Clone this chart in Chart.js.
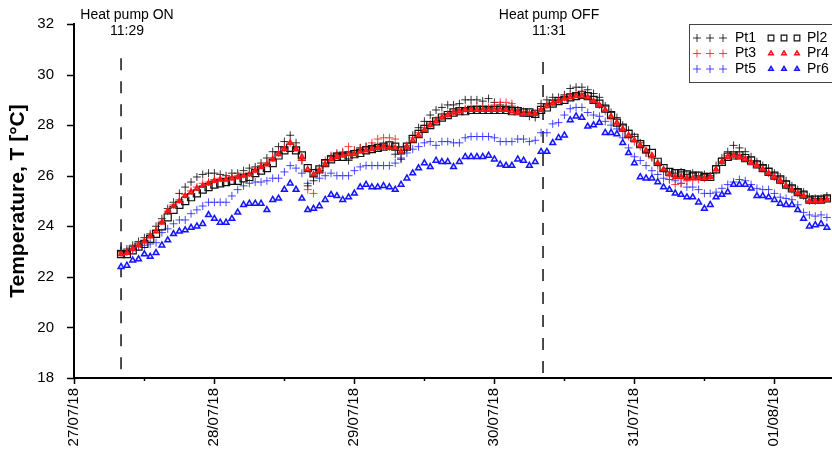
<!DOCTYPE html>
<html>
<head>
<meta charset="utf-8">
<title>Temperature</title>
<script src="https://cdn.jsdelivr.net/npm/chart.js@4"></script>
<style>
  html, body { margin: 0; background: #fff; }
  #wrap { width: 832px; height: 456px; }
</style>
</head>
<body>
<div id="wrap"><canvas id="tempChart" width="832" height="456"></canvas></div>
<script>
// x axis is in days from 27/07/18 00:00, readings are hourly
const firstReading = 0.336;
const readingStep = 1 / 24;
const dayLabels = ['27/07/18', '28/07/18', '29/07/18', '30/07/18', '31/07/18', '01/08/18'];

const pumpTimes = [0.336, 3.35];
const pumpTitles = ['Heat pump ON', 'Heat pump OFF'];
const pumpClock = ['11:29', '11:31'];

const pt1 = [
  23.05, 23.1, 23.25, 23.4, 23.55, 23.7, 24.0, 24.3, 24.7, 24.95,
  25.3, 25.55, 25.75, 25.95, 26.05, 26.1, 26.1, 26.05, 26.0, 26.1,
  26.1, 26.2, 26.3, 26.35, 26.5, 26.7, 26.95, 27.15, 27.35, 27.6,
  27.3, 26.6, 25.6, 25.8, 26.2, 26.5, 26.75, 26.85, 26.9, 26.6,
  27.0, 27.1, 27.15, 27.15, 27.15, 27.2, 27.15, 26.85, 26.65, 27.1,
  27.6, 27.9, 28.15, 28.4, 28.6, 28.7, 28.8, 28.8, 28.85, 29.0,
  29.0, 29.0, 28.95, 29.05, 28.9, 28.8, 28.7, 28.75, 28.6, 28.5,
  28.35, 28.3, 28.85, 29.0, 29.1, 29.1, 29.2, 29.45, 29.5, 29.5,
  29.4, 29.25, 29.1, 28.75, 28.5, 28.3, 28.0, 27.8, 27.55, 27.3,
  26.9, 26.75, 26.5, 26.2, 26.15, 26.1, 26.15, 26.05, 26.1, 26.0,
  26.05, 26.0, 26.4, 26.7, 26.95, 27.2, 27.1, 26.95, 26.75, 26.55,
  26.4, 26.3, 26.1, 25.95, 25.8, 25.6, 25.45, 25.35, 25.15, 25.1,
  25.1, 25.2
];
const pl2 = [
  22.9, 22.9, 23.05, 23.2, 23.3, 23.5, 23.7, 24.0, 24.35, 24.65,
  24.85, 25.0, 25.15, 25.3, 25.45, 25.55, 25.65, 25.7, 25.75, 25.8,
  25.8, 25.9, 25.95, 26.1, 26.2, 26.3, 26.5, 26.8, 27.0, 27.1,
  27.0, 26.8, 26.3, 26.1, 26.25, 26.5, 26.65, 26.75, 26.75, 26.8,
  26.85, 26.9, 27.0, 27.05, 27.1, 27.15, 27.2, 27.15, 27.0, 27.15,
  27.45, 27.65, 27.85, 28.0, 28.15, 28.3, 28.4, 28.5, 28.55, 28.55,
  28.6, 28.6, 28.6, 28.6, 28.6, 28.6, 28.6, 28.55, 28.55, 28.5,
  28.5, 28.45, 28.6, 28.7, 28.85, 28.95, 29.0, 29.1, 29.15, 29.2,
  29.15, 29.0, 28.85, 28.65, 28.4, 28.1, 27.9, 27.65, 27.5, 27.25,
  27.05, 26.9, 26.55, 26.3, 26.15, 26.1, 26.1, 26.05, 26.0, 26.0,
  25.95, 25.95, 26.25, 26.55, 26.75, 26.8, 26.8, 26.7, 26.6, 26.45,
  26.3, 26.15, 26.0, 25.85, 25.65, 25.5, 25.35, 25.25, 25.05, 25.05,
  25.05, 25.1
];
const pt3 = [
  22.95, 23.0, 23.1, 23.25, 23.4, 23.6, 23.85, 24.2, 24.6, 24.85,
  25.05, 25.25, 25.4, 25.55, 25.7, 25.75, 25.85, 25.9, 25.9, 25.95,
  26.0, 26.05, 26.1, 26.25, 26.4, 26.5, 26.7, 26.9, 27.1, 27.3,
  27.1, 26.6, 25.45, 25.3, 26.3, 26.6, 26.8, 26.9, 26.95, 27.15,
  27.0, 27.1, 27.15, 27.3, 27.45, 27.5, 27.5, 27.45, 27.0, 27.2,
  27.5, 27.7, 27.9, 28.05, 28.2, 28.35, 28.45, 28.55, 28.6, 28.65,
  28.7, 28.75, 28.75, 28.7, 28.8, 28.9, 28.9, 28.85, 28.6, 28.55,
  28.5, 28.45, 28.65, 28.8, 28.9, 29.0, 29.1, 29.2, 29.25, 29.25,
  29.15, 29.0, 28.8, 28.55, 28.3, 28.05, 27.8, 27.55, 27.35, 27.15,
  26.9, 26.7, 26.4, 26.2, 25.85, 25.65, 25.7, 25.8, 25.85, 25.85,
  25.9, 25.95, 26.2, 26.55, 26.8, 26.85, 26.85, 26.75, 26.6, 26.45,
  26.3, 26.1, 25.95, 25.8, 25.6, 25.45, 25.3, 25.2, 25.0, 25.0,
  25.05, 25.1
];
const pr4 = [
  22.9, 22.95, 23.1, 23.25, 23.4, 23.6, 23.8, 24.15, 24.6, 24.8,
  25.0, 25.2, 25.35, 25.5, 25.6, 25.7, 25.8, 25.85, 25.85, 25.9,
  25.95, 26.0, 26.05, 26.2, 26.35, 26.45, 26.65, 26.85, 27.05, 27.3,
  27.05, 26.75, 26.25, 26.05, 26.2, 26.45, 26.65, 26.75, 26.8, 26.85,
  26.85, 26.95, 27.0, 27.05, 27.1, 27.15, 27.1, 27.1, 26.95, 27.15,
  27.4, 27.6, 27.8, 28.0, 28.15, 28.3, 28.4, 28.5, 28.55, 28.6,
  28.6, 28.6, 28.6, 28.6, 28.6, 28.6, 28.6, 28.55, 28.5, 28.45,
  28.45, 28.45, 28.6, 28.75, 28.85, 28.95, 29.05, 29.1, 29.15, 29.15,
  29.1, 28.95, 28.8, 28.6, 28.35, 28.1, 27.85, 27.6, 27.4, 27.2,
  27.0, 26.8, 26.5, 26.25, 26.05, 25.95, 25.95, 25.9, 25.9, 25.9,
  25.9, 25.95, 26.25, 26.55, 26.75, 26.8, 26.75, 26.65, 26.5, 26.4,
  26.25, 26.1, 25.95, 25.8, 25.6, 25.45, 25.3, 25.2, 25.0, 25.0,
  25.0, 25.05
];
const pt5 = [
  23.0, 23.0, 23.1, 23.2, 23.25, 23.3, 23.35, 23.75, 23.9, 24.1,
  24.25, 24.25, 24.5, 24.65, 24.8, 24.95, 24.95, 24.95, 24.95, 25.2,
  25.45, 25.6, 25.7, 25.75, 25.75, 25.8, 25.9, 25.9, 26.15, 26.4,
  26.3, 26.1, 25.7, 25.95, 25.9, 26.0, 26.1, 26.0, 26.0, 26.0,
  26.2, 26.35, 26.4, 26.4, 26.4, 26.4, 26.4, 26.5, 26.7, 26.9,
  27.05, 27.15, 27.3, 27.35, 27.2, 27.35, 27.35, 27.3, 27.3, 27.5,
  27.55, 27.55, 27.55, 27.55, 27.5, 27.35, 27.35, 27.35, 27.45, 27.45,
  27.35, 27.4, 27.7, 27.7, 28.05, 28.1, 28.4, 28.65, 28.7, 28.7,
  28.5, 28.4, 28.35, 28.15, 28.0, 27.85, 27.5, 27.1, 26.75, 26.6,
  26.4, 26.2, 26.05, 25.9, 25.85, 25.8, 25.7, 25.55, 25.55, 25.45,
  25.3, 25.3, 25.35, 25.5, 25.65, 25.75, 25.85, 25.8, 25.65, 25.5,
  25.45, 25.45, 25.3, 25.15, 25.1, 25.05, 24.85, 24.55, 24.45, 24.4,
  24.45, 24.35
];
const pr6 = [
  22.4, 22.45, 22.65, 22.7, 22.9, 22.8, 22.95, 23.25, 23.45, 23.7,
  23.8, 23.85, 23.95, 24.0, 24.1, 24.45, 24.3, 24.15, 24.15, 24.3,
  24.55, 24.85, 24.9, 24.9, 24.9, 24.65, 25.05, 25.1, 25.45, 25.7,
  25.45, 25.1, 24.65, 24.7, 24.8, 25.05, 25.25, 25.2, 25.05, 25.15,
  25.3, 25.55, 25.65, 25.55, 25.55, 25.6, 25.55, 25.45, 25.65, 25.9,
  26.1, 26.3, 26.5, 26.35, 26.6, 26.55, 26.55, 26.35, 26.55, 26.75,
  26.75, 26.75, 26.75, 26.8, 26.65, 26.45, 26.4, 26.4, 26.65, 26.6,
  26.4, 26.55, 26.95, 26.95, 27.3, 27.5, 27.6, 28.2, 28.35, 28.3,
  27.95, 28.0, 28.1, 27.7, 27.7, 27.65, 27.3, 26.9, 26.5, 25.95,
  25.9, 25.9, 25.75, 25.55, 25.45, 25.3, 25.25, 25.15, 25.15, 24.95,
  24.7, 24.85, 25.15, 25.25, 25.35, 25.65, 25.65, 25.65, 25.5, 25.2,
  25.2, 25.15, 25.05, 24.9, 24.85, 24.85, 24.65, 24.3, 24.0, 24.05,
  24.1, 23.95
];

const FONT = '"Liberation Sans", Arial, sans-serif';

const toPoints = vals => vals.map((v, i) => ({ x: firstReading + i * readingStep, y: v }));

function series(label, vals, style, order) {
  return Object.assign({
    label: label,
    data: toPoints(vals),
    showLine: false,
    order: order
  }, style);
}

const datasets = [
  series('Pr4', pr4, { pointStyle: 'triangle', pointRadius: 2.8, borderColor: '#ff1010', backgroundColor: 'rgba(255,40,40,0.7)', borderWidth: 1.5 }, 0),
  series('Pl2', pl2, { pointStyle: 'rect', pointRadius: 5, borderColor: '#111', backgroundColor: 'rgba(255,255,255,0)', borderWidth: 1.2 }, 1),
  series('Pt3', pt3, { pointStyle: 'cross', pointRadius: 4, borderColor: 'rgba(255,20,20,0.8)', backgroundColor: 'rgba(255,20,20,0.8)', borderWidth: 1 }, 2),
  series('Pt1', pt1, { pointStyle: 'cross', pointRadius: 4, borderColor: 'rgba(0,0,0,0.8)', backgroundColor: 'rgba(0,0,0,0.8)', borderWidth: 1 }, 3),
  series('Pr6', pr6, { pointStyle: 'triangle', pointRadius: 3.3, borderColor: '#1414ff', backgroundColor: 'rgba(230,230,255,0.9)', borderWidth: 1.5 }, 4),
  series('Pt5', pt5, { pointStyle: 'cross', pointRadius: 4, borderColor: 'rgba(30,30,255,0.8)', backgroundColor: 'rgba(30,30,255,0.8)', borderWidth: 1 }, 5)
];

// dashed markers for pump switching, drawn from the top down
const pumpTops = [30.65, 30.5];
pumpTimes.forEach((t, i) => {
  datasets.push({
    label: pumpTitles[i],
    data: [{ x: t, y: pumpTops[i] }, { x: t, y: 18 }],
    showLine: true,
    borderColor: '#111',
    borderWidth: 1.5,
    borderDash: [12, 11],
    pointRadius: 0,
    order: 6
  });
});

const legendRows = [['Pt1', 'Pl2'], ['Pt3', 'Pr4'], ['Pt5', 'Pr6']];

const axisTicks = {
  id: 'axisTicks',
  afterDraw(chart) {
    const { ctx, chartArea } = chart;
    const x = chart.scales.x, y = chart.scales.y;
    ctx.save();
    ctx.strokeStyle = '#000';
    ctx.lineWidth = 1.5;
    ctx.beginPath();
    x.ticks.forEach(t => {
      const px = Math.round(x.getPixelForValue(t.value)) + 0.5;
      const len = Number.isInteger(t.value) ? 6 : 3;
      ctx.moveTo(px, chartArea.bottom);
      ctx.lineTo(px, chartArea.bottom + len);
    });
    y.ticks.forEach(t => {
      const py = Math.round(y.getPixelForValue(t.value)) + 0.5;
      ctx.moveTo(chartArea.left, py);
      ctx.lineTo(chartArea.left - 7, py);
    });
    ctx.stroke();
    ctx.restore();
  }
};

const pumpNotes = {
  id: 'pumpNotes',
  afterDraw(chart) {
    const { ctx } = chart;
    const x = chart.scales.x;
    ctx.save();
    ctx.font = '14px ' + FONT;
    ctx.fillStyle = '#000';
    ctx.textAlign = 'center';
    ctx.textBaseline = 'middle';
    pumpTimes.forEach((t, i) => {
      const px = x.getPixelForValue(t) + 6;
      ctx.fillText(pumpTitles[i], px, 15);
      ctx.fillText(pumpClock[i], px, 31);
    });
    ctx.restore();
  }
};

// legend markers are drawn a little smaller than the plotted ones
const legendRadius = { cross: 4, rect: 4, triangle: 2.6 };

const legendBox = {
  id: 'legendBox',
  afterDraw(chart) {
    const { ctx, chartArea } = chart;
    const left = chartArea.right - 143, top = chartArea.top;
    ctx.save();
    ctx.fillStyle = '#fff';
    ctx.fillRect(left, top, 160, 58);
    ctx.strokeStyle = '#444';
    ctx.lineWidth = 1;
    ctx.strokeRect(left + 0.5, top + 0.5, 160, 58);
    ctx.font = '14px ' + FONT;
    ctx.textBaseline = 'middle';
    ctx.textAlign = 'left';
    const colX = [left + 8, left + 82];
    legendRows.forEach((row, r) => {
      const cy = top + 14 + r * 15.5;
      row.forEach((name, c) => {
        const ds = chart.data.datasets.find(d => d.label === name);
        for (let k = 0; k < 3; k++) {
          ctx.strokeStyle = ds.borderColor;
          ctx.fillStyle = ds.pointStyle === 'cross' ? ds.backgroundColor : '#fff';
          ctx.lineWidth = ds.borderWidth;
          Chart.helpers.drawPoint(ctx, {
            pointStyle: ds.pointStyle,
            radius: legendRadius[ds.pointStyle],
            rotation: 0,
            borderWidth: ds.borderWidth
          }, colX[c] + k * 13, cy);
        }
        ctx.fillStyle = '#000';
        ctx.fillText(name, colX[c] + (c === 0 ? 38 : 36), cy);
      });
    });
    ctx.restore();
  }
};

new Chart(document.getElementById('tempChart'), {
  type: 'scatter',
  data: { datasets: datasets },
  plugins: [axisTicks, pumpNotes, legendBox],
  options: {
    responsive: false,
    animation: false,
    layout: { autoPadding: false, padding: { top: 24, right: 0, bottom: 0, left: 0 } },
    plugins: {
      legend: { display: false },
      tooltip: { enabled: false }
    },
    scales: {
      x: {
        type: 'linear',
        min: 0,
        max: 5.414,
        afterFit(scale) {
          scale.height = 78;
          scale.paddingLeft = 0;
          scale.paddingRight = 0;
        },
        border: { display: true, color: '#000', width: 2 },
        grid: { display: true, drawOnChartArea: false, drawTicks: false },
        ticks: {
          stepSize: 0.5,
          includeBounds: false,
          autoSkip: false,
          minRotation: 90,
          maxRotation: 90,
          padding: 10,
          color: '#000',
          font: { family: FONT, size: 15 },
          callback: v => Number.isInteger(v) ? dayLabels[v] : ''
        }
      },
      y: {
        min: 18,
        max: 32,
        afterFit(scale) {
          scale.width = 74;
          scale.paddingTop = 0;
          scale.paddingBottom = 0;
        },
        border: { display: true, color: '#000', width: 2 },
        grid: { display: true, drawOnChartArea: false, drawTicks: false },
        ticks: {
          stepSize: 2,
          padding: 20,
          color: '#000',
          font: { family: FONT, size: 15 }
        },
        title: {
          display: true,
          text: 'Temperature, T [°C]',
          color: '#000',
          padding: { top: 6, bottom: 0 },
          font: { family: FONT, size: 21, weight: 'bold' }
        }
      }
    }
  }
});
</script>
</body>
</html>
